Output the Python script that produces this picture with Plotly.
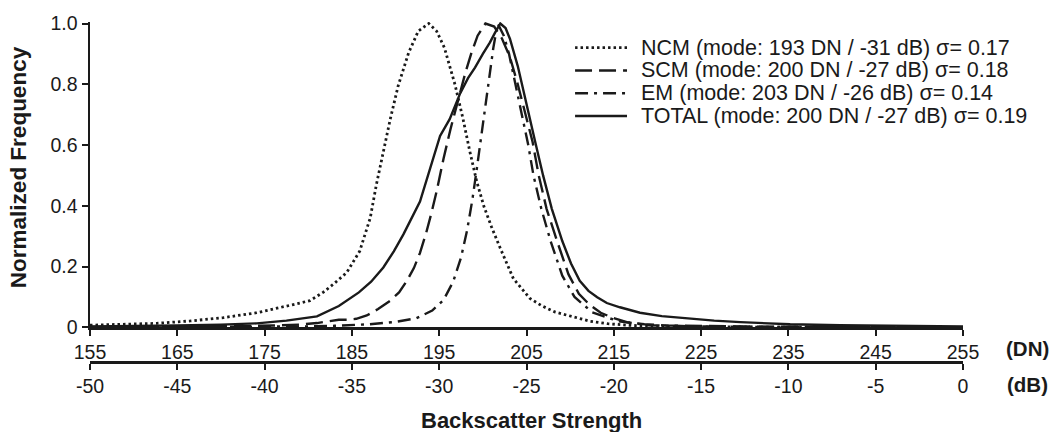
import plotly.graph_objects as go

# ---------------- data ----------------
DN_NCM = [155, 158.8, 162.6, 166.5, 170.3, 174.1, 176.5, 178.3, 180.2, 181.7, 183.0, 184.4,
          185.9, 187.1, 187.8, 188.6, 189.4, 190.3, 191.5, 192.6, 193.8, 194.7, 195.6, 196.8,
          197.7, 198.5, 199.3, 200.1, 201.0, 202.0, 203.5, 205.4, 206.8, 208.3, 210.2, 212.3,
          214.3, 216.5, 219, 223, 230, 240, 255]
NCM = [0.007, 0.010, 0.013, 0.021, 0.032, 0.048, 0.062, 0.075, 0.088, 0.115, 0.145, 0.18,
       0.251, 0.36, 0.469, 0.577, 0.686, 0.795, 0.904, 0.975, 1.0, 0.975, 0.92, 0.80,
       0.69, 0.58, 0.48, 0.40, 0.33, 0.26, 0.16, 0.095, 0.07, 0.05, 0.035, 0.02,
       0.012, 0.007, 0.004, 0.002, 0.001, 0.0005, 0.0]

DN_SCM = [155, 165, 172, 176, 179, 181, 182.5, 183.5, 184.5, 185.5, 186.7, 188, 189.4, 190.4,
          191.3, 192.1, 192.8, 193.5, 194.1, 194.7, 195.5, 196.3, 197.2, 198.0, 198.7, 199.4,
          200.3, 201.3, 202.2, 203.1, 204.0, 204.8, 205.7, 206.4, 207.3, 208.5, 209.8, 211.0,
          212.2, 213.5, 215, 216.5, 218.5, 221, 225, 232, 245, 255]
SCM = [0.001, 0.002, 0.004, 0.006, 0.009, 0.014, 0.022, 0.025, 0.025, 0.028, 0.039, 0.06, 0.088, 0.115,
       0.153, 0.195, 0.245, 0.31, 0.375, 0.447, 0.556, 0.653, 0.751, 0.838, 0.904, 0.96,
       1.0, 0.99, 0.95, 0.89, 0.80, 0.71, 0.61, 0.50, 0.39, 0.284, 0.175, 0.11,
       0.075, 0.048, 0.03, 0.017, 0.01, 0.006, 0.004, 0.002, 0.001, 0.0]

DN_EM = [155, 170, 180, 183, 187, 190, 192.4, 194.2, 195.5, 196.6, 197.5, 198.2, 198.8, 199.3,
         199.8, 200.3, 200.8, 201.2, 201.7, 202.4, 203.0, 204.2, 205.2, 205.8, 206.7, 207.8,
         209.1, 210.5, 212.5, 215.5, 219, 225, 235, 255]
EM = [0.0, 0.001, 0.003, 0.005, 0.01, 0.018, 0.03, 0.055, 0.09, 0.15, 0.23, 0.32, 0.42, 0.52,
      0.63, 0.74, 0.84, 0.92, 1.0, 0.96, 0.90, 0.74, 0.60, 0.50, 0.39, 0.28,
      0.17, 0.10, 0.05, 0.02, 0.007, 0.003, 0.001, 0.0]

DN_TOT = [155, 160, 165, 170, 174.1, 177.5, 181.0, 183.5, 185.8, 187.2, 188.6, 189.8, 190.9,
          192.8, 194.0, 195.1, 196.2, 197.4, 198.3, 199.1, 200.0, 200.8, 201.4, 202.0, 202.6,
          203.1, 204.0, 205.0, 206.0, 206.9, 207.9, 209.1, 210.1, 211.1, 212.1, 213.1, 214.2,
          215.7, 218.0, 220.5, 223.8, 226.5, 229.5, 232.5, 235.2, 240.9, 247, 255]
TOT = [0.003, 0.004, 0.006, 0.009, 0.013, 0.022, 0.036, 0.07, 0.115, 0.15, 0.197, 0.25, 0.306,
       0.414, 0.523, 0.63, 0.685, 0.77, 0.82, 0.855, 0.90, 0.937, 0.97, 1.0, 0.985,
       0.95, 0.86, 0.74, 0.61, 0.50, 0.39, 0.284, 0.21, 0.153, 0.12, 0.099, 0.08,
       0.066, 0.048, 0.037, 0.028, 0.022, 0.017, 0.013, 0.01, 0.007, 0.005, 0.003]

LABELS = ["NCM (mode: 193 DN / -31 dB) σ= 0.17",
          "SCM (mode: 200 DN / -27 dB) σ= 0.18",
          "EM (mode: 203 DN / -26 dB) σ= 0.14",
          "TOTAL (mode: 200 DN / -27 dB) σ= 0.19"]

DN_TICKS = list(range(155, 256, 10))
DB_TICKS = list(range(-50, 1, 5))
DB_TICKTEXT = [str(v) for v in DB_TICKS]
Y_TICKS = [0, 0.2, 0.4, 0.6, 0.8, 1.0]
Y_TICKTEXT = ["0", "0.2", "0.4", "0.6", "0.8", "1.0"]
LEGEND_ROWS = [0, 1, 2, 3]
LEGEND_SAMPLE = [0, 1]

# ---------------- styling ----------------
FONT = "Liberation Sans, Arial, Helvetica, sans-serif"
BLACK = "#1a1a1a"
DASHES = ["2.5px,3px", "17px,7px", "13px,6px,3px,6px", "solid"]
WIDTHS = [2.8, 2.4, 2.4, 2.4]

series = [(DN_NCM, NCM), (DN_SCM, SCM), (DN_EM, EM), (DN_TOT, TOT)]

fig = go.Figure()
for (xs, ys), dash, w, lab in zip(series, DASHES, WIDTHS, LABELS):
    fig.add_trace(go.Scatter(x=xs, y=ys, mode="lines", name=lab, showlegend=False,
                             line=dict(color=BLACK, width=w, dash=dash),
                             xaxis="x", yaxis="y", hoverinfo="skip"))

# custom legend (samples drawn on a hidden helper axis)
for row, dash, w, lab in zip(LEGEND_ROWS, DASHES, WIDTHS, LABELS):
    fig.add_trace(go.Scatter(x=LEGEND_SAMPLE, y=[row, row], mode="lines", showlegend=False,
                             line=dict(color=BLACK, width=w, dash=dash),
                             xaxis="x3", yaxis="y3", hoverinfo="skip"))
    fig.add_annotation(x=0.629, y=row, xref="paper", yref="y3", text=lab, showarrow=False,
                       xanchor="left", yanchor="middle",
                       font=dict(family=FONT, size=21.5, color=BLACK))

axis_common = dict(showline=True, linecolor=BLACK, linewidth=2.5, ticks="outside",
                   ticklen=6, tickwidth=2, tickcolor=BLACK, showgrid=False, zeroline=False,
                   tickfont=dict(family=FONT, size=19.5, color=BLACK))

fig.update_layout(
    width=1052, height=432,
    margin=dict(l=90, r=89, t=19, b=70),
    plot_bgcolor="white", paper_bgcolor="white",
    showlegend=False,
    xaxis=dict(range=[155, 255], tickvals=DN_TICKS, anchor="y", **axis_common),
    xaxis2=dict(range=[-50, 0], tickvals=DB_TICKS, ticktext=DB_TICKTEXT, overlaying="x",
                anchor="free", position=0, side="bottom", **axis_common),
    yaxis=dict(range=[0, 1.005], tickvals=Y_TICKS, ticktext=Y_TICKTEXT,
               domain=[0.102, 1], **axis_common),
    xaxis3=dict(domain=[0.5556, 0.6152], range=[0, 1], visible=False, anchor="y3"),
    yaxis3=dict(domain=[0.69, 0.958], range=[3.5, -0.5], visible=False, anchor="x3"),
)

# empty trace so the dB axis is attached to the plot
fig.add_trace(go.Scatter(x=[], y=[], xaxis="x2", yaxis="y", showlegend=False))

fig.add_annotation(x=0.506, y=-0.171, xref="paper", yref="paper", text="<b>Backscatter Strength</b>",
                   showarrow=False, xanchor="center", yanchor="middle",
                   font=dict(family=FONT, size=22, color=BLACK))
fig.add_annotation(x=-0.0825, y=0.573, xref="paper", yref="paper", text="<b>Normalized Frequency</b>",
                   showarrow=False, textangle=-90, xanchor="center", yanchor="middle",
                   font=dict(family=FONT, size=22.5, color=BLACK))
fig.add_annotation(x=1.0735, y=0.041, xref="paper", yref="paper", text="<b>(DN)</b>",
                   showarrow=False, xanchor="center", yanchor="middle",
                   font=dict(family=FONT, size=20.5, color=BLACK))
fig.add_annotation(x=1.0735, y=-0.067, xref="paper", yref="paper", text="<b>(dB)</b>",
                   showarrow=False, xanchor="center", yanchor="middle",
                   font=dict(family=FONT, size=20.5, color=BLACK))

# remove the browser's default 8px page margin so the figure fills the window exactly
fig.write_html("out.html",
               config={"displayModeBar": False, "staticPlot": True},
               post_script="document.body.style.margin='0px';"
                           "document.body.style.padding='0px';"
                           "document.documentElement.style.overflow='hidden';"
                           "document.body.style.overflow='hidden';")
